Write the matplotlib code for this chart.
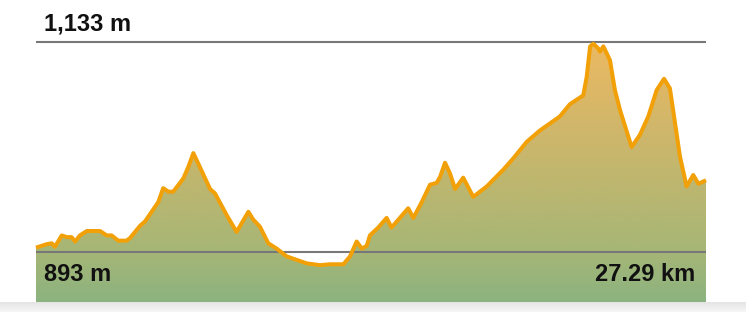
import numpy as np
import matplotlib.pyplot as plt
from matplotlib.colors import LinearSegmentedColormap
from matplotlib.patches import Polygon

# elevation profile
dist_km = [0.0, 0.44, 0.64, 0.77, 1.05, 1.25, 1.45, 1.59, 1.79, 2.07, 2.61, 2.88, 3.08, 3.35,
           3.69, 3.83, 4.24, 4.44, 4.98, 5.18, 5.39, 5.59, 6.00, 6.20, 6.41, 6.61, 7.09, 7.29,
           7.77, 8.17, 8.65, 8.85, 9.12, 9.46, 9.80, 10.21, 10.62, 11.03, 11.57, 11.97, 12.52,
           12.79, 13.06, 13.27, 13.47, 13.60, 13.94, 14.28, 14.48, 14.76, 15.16, 15.37, 15.71,
           16.05, 16.32, 16.46, 16.66, 16.86, 17.07, 17.40, 17.81, 18.36, 19.03, 19.44, 19.99,
           20.53, 21.34, 21.75, 22.02, 22.29, 22.43, 22.57, 22.70, 22.89, 22.97, 23.11, 23.38,
           23.58, 23.79, 24.26, 24.60, 24.94, 25.28, 25.58, 25.82, 26.23, 26.50, 26.77, 26.98,
           27.29]
elev_m = [898, 902, 903, 899, 912, 910, 910, 905, 912, 917, 917, 912, 912, 906,
          906, 909, 923, 928, 950, 966, 962, 962, 977, 990, 1006, 994, 965, 960,
          935, 916, 939, 930, 922, 903, 897, 888, 884, 880, 878, 879, 879,
          888, 905, 897, 900, 912, 921, 932, 921, 930, 943, 932, 950,
          970, 972, 979, 995, 983, 965, 978, 956, 968, 987, 1000, 1019,
          1032, 1048, 1062, 1067, 1072, 1093, 1128, 1131, 1126, 1122, 1128, 1112,
          1078, 1055, 1013, 1027, 1048, 1078, 1091, 1080, 1002, 968, 981, 971,
          975]

max_label = "1,133 m"
min_label = "893 m"
dist_label = "27.29 km"
max_elev = 1133
ref_elev = 893

plt.rcParams['font.family'] = ['Liberation Sans', 'DejaVu Sans']

fig = plt.figure(figsize=(7.46, 3.12), dpi=100)

# light grey shadow strip along the bottom
ax_bg = fig.add_axes([0, 0, 1, 10 / 312])
shade = np.linspace(0, 1, 20).reshape(-1, 1)
ax_bg.imshow(shade, aspect='auto', cmap=LinearSegmentedColormap.from_list('s', ['#f6f6f6', '#e4e4e4']),
             extent=[0, 1, 0, 1], origin='lower')
ax_bg.axis('off')

ax = fig.add_axes([36 / 746, 10 / 312, 670 / 746, 302 / 312])
ymin, ymax = 835.9, 1181.0
ax.set_xlim(0, dist_km[-1])
ax.set_ylim(ymin, ymax)
ax.axis('off')

# gradient fill under the profile
cmap = LinearSegmentedColormap.from_list('elev', [
    (0.0, '#8cb37f'),
    ((893 - ymin) / (ymax - ymin), '#a6b676'),
    ((1000 - ymin) / (ymax - ymin), '#c6b66d'),
    ((1133 - ymin) / (ymax - ymin), '#ecb962'),
    (1.0, '#f2ba5f')])
grad = np.linspace(0, 1, 300).reshape(-1, 1)
img = ax.imshow(grad, aspect='auto', cmap=cmap, origin='lower',
                extent=[0, dist_km[-1], ymin, ymax], zorder=1)
verts = [(dist_km[0], ymin)] + list(zip(dist_km, elev_m)) + [(dist_km[-1], ymin)]
poly = Polygon(verts, closed=True, facecolor='none', edgecolor='none')
ax.add_patch(poly)
img.set_clip_path(poly)

ax.axhline(max_elev, color='#777777', lw=1.5, zorder=2)
ax.axhline(ref_elev, color='#777777', lw=1.5, zorder=2)
ax.plot(dist_km, elev_m, color='#f2a007', lw=2.9, solid_joinstyle='round',
        solid_capstyle='butt', zorder=3, clip_on=False)

fig.text(44 / 746, 1 - 31 / 312, max_label, fontsize=17, fontweight='bold', color='#111111',
         ha='left', va='baseline')
fig.text(44 / 746, 1 - 281 / 312, min_label, fontsize=17, fontweight='bold', color='#111111',
         ha='left', va='baseline')
fig.text(695 / 746, 1 - 281 / 312, dist_label, fontsize=17, fontweight='bold', color='#111111',
         ha='right', va='baseline')

fig.savefig('out.png', dpi=100)
